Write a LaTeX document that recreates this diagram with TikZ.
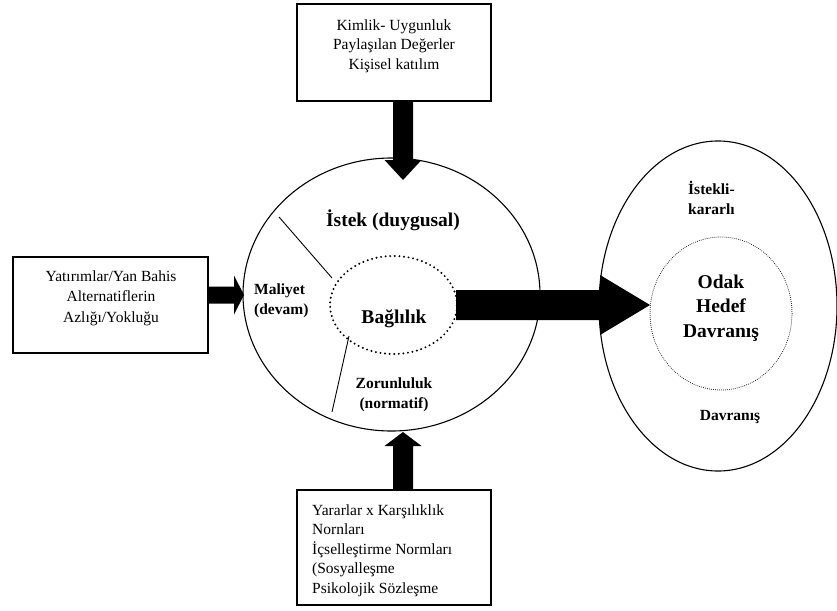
\documentclass[tikz,border=0pt]{standalone}
\usepackage{fontspec}
\setmainfont{Liberation Serif}
\usetikzlibrary{calc,shapes.geometric}
\begin{document}
\begin{tikzpicture}[x=1pt,y=-1pt,
  frame/.style={draw, line width=1.1pt, rectangle, inner sep=0pt},
  ring/.style={draw, line width=1.1pt, ellipse, inner sep=0pt},
  dotring/.style={draw, ellipse, inner sep=0pt, line cap=round, line width=2.2pt, dash pattern=on 0pt off 4.6pt},
  finering/.style={draw, ellipse, inner sep=0pt, line cap=round, line width=1pt, dash pattern=on 0pt off 2pt},
  divider/.style={line width=0.9pt},
  boxtext/.style={font=\fontsize{15.5}{19.5}\selectfont, inner sep=0pt},
  lbl/.style={font=\bfseries\fontsize{15.5}{19.5}\selectfont, inner sep=0pt},
  biglbl/.style={font=\bfseries\fontsize{19.5}{24.5}\selectfont, inner sep=0pt},
  block/.style={fill=black}]

\useasboundingbox (0,0) rectangle (837,610);

% input boxes
\node[frame, minimum width=194pt, minimum height=97pt] (kimlik) at (394,52.5) {};
\node[frame, minimum width=195pt, minimum height=96pt] (yatirim) at (110.5,305) {};
\node[frame, minimum width=194pt, minimum height=115pt] (yarar) at (394,547.5) {};

% commitment ellipse and its core
\node[ring, minimum width=297pt, minimum height=273pt] (commit) at (391.5,294.5) {};
\node[dotring, minimum width=127pt, minimum height=98pt] (core) at (393.5,305) {};

% behaviour ellipse and its core
\node[ring, minimum width=238pt, minimum height=330pt] (behav) at (718,306) {};
\node[finering, minimum width=142pt, minimum height=153pt] (focus) at (721,313.5) {};

% dividers between the three components
\coordinate (d1a) at (279,217);
\coordinate (d1b) at (332,278);
\coordinate (d2a) at (349,336);
\coordinate (d2b) at (332,412);
\draw[divider] (d1a) -- (d1b);
\draw[divider] (d2a) -- (d2b);

% block arrows
\coordinate (ta) at (403,0 |- kimlik.south);
\coordinate (tb) at (403,180);
\fill[block] ($(ta)+(-10,0)$) -- ($(tb)+(-10,-20)$) -- ($(tb)+(-18.5,-20)$) -- (tb)
  -- ($(tb)+(18.5,-20)$) -- ($(tb)+(10,-20)$) -- ($(ta)+(10,0)$) -- cycle;

\coordinate (ba) at (403,0 |- yarar.north);
\coordinate (bb) at (403,432);
\fill[block] ($(ba)+(-10,0)$) -- ($(bb)+(-10,14)$) -- ($(bb)+(-18.5,14)$) -- (bb)
  -- ($(bb)+(18.5,14)$) -- ($(bb)+(10,14)$) -- ($(ba)+(10,0)$) -- cycle;

\coordinate (la) at (yatirim.east |- 0,295);
\coordinate (lb) at (244,295);
\fill[block] ($(la)+(0,-8.5)$) -- ($(lb)+(-10,-8.5)$) -- ($(lb)+(-10,-19.5)$) -- (lb)
  -- ($(lb)+(-10,19.5)$) -- ($(lb)+(-10,8.5)$) -- ($(la)+(0,8.5)$) -- cycle;

\coordinate (ga) at ($(core.east)+(-2,0)$);
\coordinate (gb) at (650,305);
\fill[block] ($(ga)+(0,-15)$) -- ($(gb)+(-50,-15)$) -- ($(gb)+(-50,-30)$) -- (gb)
  -- ($(gb)+(-50,30)$) -- ($(gb)+(-50,15)$) -- ($(ga)+(0,15)$) -- cycle;

% box texts (multi-line nodes sit on the baseline of their last line)
\node[boxtext, align=center, anchor=base] (t1) at (394,69)
  {Kimlik- Uygunluk\\Paylaşılan Değerler\\Kişisel katılım};
\node[boxtext, align=center, anchor=base, font=\fontsize{15.5}{20.5}\selectfont] (t2) at (111,322)
  {Yatırımlar/Yan Bahis\\Alternatiflerin\\Azlığı/Yokluğu};
\node[boxtext, align=left, anchor=base west] (t3) at (312,593)
  {Yararlar x Karşılıklık\\Nornları\\İçselleştirme Normları\\(Sosyalleşme\\Psikolojik Sözleşme};

% ellipse labels
\node[biglbl, anchor=base] (istek) at (393,226) {İstek (duygusal)};
\node[lbl, align=left, anchor=base west] (maliyet) at (254,314) {Maliyet\\(devam)};
\node[biglbl, anchor=base] (baglilik) at (394,323) {Bağlılık};
\node[lbl, align=center, anchor=base] (zorunlu) at (394,408) {Zorunluluk\\(normatif)};
\node[lbl, align=left, anchor=base west] (istekli) at (688,214) {İstekli-\\kararlı};
\node[biglbl, align=center, anchor=base] (odak) at (721,337) {Odak\\Hedef\\Davranış};
\node[lbl, anchor=base] (davranis) at (730,420) {Davranış};

\end{tikzpicture}
\end{document}
